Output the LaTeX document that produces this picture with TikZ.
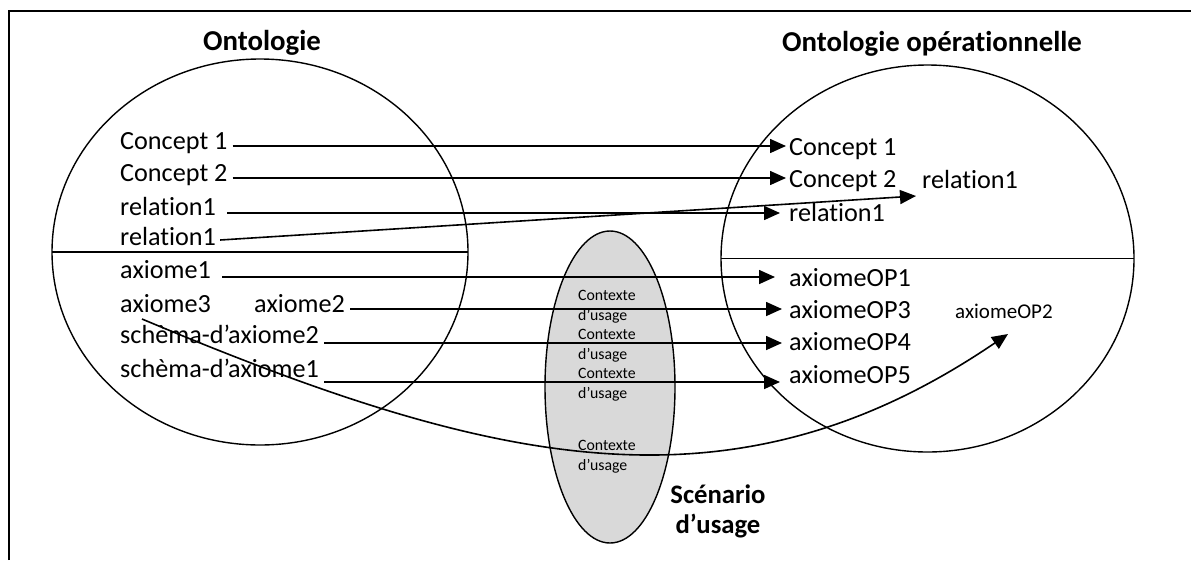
\documentclass[tikz,border=0pt]{standalone}
\usepackage{fontspec}
\setmainfont{Carlito}[Ligatures={NoCommon}]
\usetikzlibrary{arrows.meta,calc}
\definecolor{scenfill}{RGB}{217,217,217}
\begin{document}
\begin{tikzpicture}[x=1pt,y=-1pt,
  txt/.style={anchor=base west,inner sep=0pt,font=\fontsize{26.2}{30}\selectfont},
  small/.style={font=\fontsize{21}{25}\selectfont},
  title/.style={anchor=base,inner sep=0pt,font=\fontsize{28.8}{33}\selectfont\bfseries},
  scen/.style={anchor=base,inner sep=0pt,font=\fontsize{26.7}{30}\selectfont\bfseries},
  ctx/.style={anchor=base west,inner sep=0pt,font=\fontsize{15.8}{19}\selectfont},
  outline/.style={line width=1.4pt},
  frame/.style={line width=1.5pt},
  link/.style={line width=1.6pt,-{Triangle[length=16pt,width=14pt]}},
]
\useasboundingbox (0,0) rectangle (1191,560);

% outer frame (only left and top edges fall on the page)
\draw[frame] (9,560) -- (9,11) -- (1191,11);

% usage scenario (grey ellipse)
\draw[outline,fill=scenfill] (610,387) ellipse [x radius=65pt, y radius=156pt];

% source and operational ontologies
\draw[outline] (260,252) ellipse [x radius=208pt, y radius=193pt];
\draw[outline] (52,252) -- (468,252);
\draw[outline] (927.5,258.5) ellipse [x radius=206.5pt, y radius=193.5pt];
\draw[outline] (721,258.5) -- (1134,258.5);

% titles
\node[title] (tL) at (262,50) {Ontologie};
\node[title] (tR) at (932,51) {Ontologie opérationnelle};
\node[scen] (sc1) at (718,503) {Scénario};
\node[scen] (sc2) at (718,533) {d’usage};

% usage contexts
\foreach \i/\y in {1/300,2/339,3/378,4/450} {
  \node[ctx] (ctxa\i) at (578,\y) {Contexte};
  \node[ctx] (ctxb\i) at (578,\y+20) {d’usage};
}

% ontology elements
\node[txt] (c1L) at (120,149) {Concept 1};
\node[txt] (c2L) at (120,181) {Concept 2};
\node[txt] (r1L) at (120,215) {relation1};
\node[txt] (r2L) at (120,245) {relation1};
\node[txt] (a1L) at (120,278) {axiome1};
\node[txt] (a3L) at (120,312) {axiome3};
\node[txt] (a2L) at (254,312) {axiome2};
\node[txt] (s2L) at (120,343) {schèma-d’axiome2};
\node[txt] (s1L) at (120,377) {schèma-d’axiome1};

% operational ontology elements
\node[txt] (c1R) at (789,155) {Concept 1};
\node[txt] (c2R) at (789,187) {Concept 2};
\node[txt] (relT) at (922,188) {relation1};
\node[txt] (r1R) at (789,221) {relation1};
\node[txt] (o1R) at (789,286) {axiomeOP1};
\node[txt] (o3R) at (789,318) {axiomeOP3};
\node[txt,small] (o2R) at (955,318) {axiomeOP2};
\node[txt] (o4R) at (789,350) {axiomeOP4};
\node[txt] (o5R) at (789,383) {axiomeOP5};

% mappings
\draw[link] ($(c1L.base east)+(5,-3)$) coordinate (m1) -- ($(m1 -| c1R.west)+(-3,0)$);
\draw[link] ($(c2L.base east)+(5,-3)$) coordinate (m2) -- ($(m2 -| c2R.west)+(-3,0)$);
\draw[link] ($(r1L.base east)+(11,-2)$) coordinate (m3) -- ($(m3 -| r1R.west)+(-9,0)$);
\draw[link] ($(r2L.base east)+(4,-5)$) -- ($(relT.base west)+(-6,8)$);
\draw[link] ($(a1L.base east)+(11,-1)$) coordinate (m5) -- ($(m5 -| o1R.west)+(-14,0)$);
\draw[link] ($(a2L.base east)+(5,-3)$) coordinate (m6) -- ($(m6 -| o3R.west)+(-7,0)$);
\draw[link] ($(s2L.base east)+(5,0)$) coordinate (m7) -- ($(m7 -| o4R.west)+(-7,0)$);
\draw[link] ($(s1L.base east)+(5,5)$) coordinate (m8) -- ($(m8 -| o5R.west)+(-9,0)$);
\draw[link] ($(a3L.base west)+(22,7)$) .. controls (492,466) and (732,522) .. ($(o2R.base west)+(53,16)$);
\end{tikzpicture}
\end{document}
